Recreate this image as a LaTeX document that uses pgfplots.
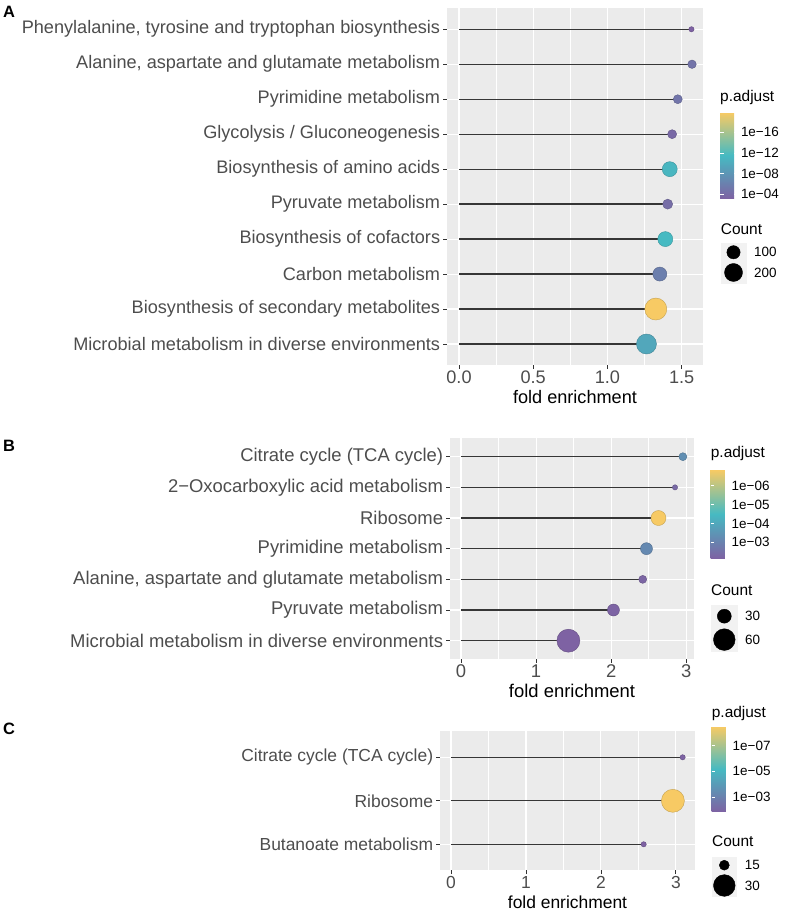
\documentclass[border=0pt]{standalone}
\usepackage{pgfplots}
\usepackage{pgfplotstable}
\pgfplotsset{compat=1.18}
\usepackage{fontspec}
\setmainfont{Liberation Sans}
\definecolor{panelbg}{HTML}{EBEBEB}
\definecolor{keybg}{HTML}{F2F2F2}
\definecolor{lbl}{HTML}{4D4D4D}
\definecolor{stem}{HTML}{363636}
\newcommand{\fontA}{\fontsize{18.2}{20}\selectfont}
\newcommand{\fontB}{\fontsize{18.5}{20.5}\selectfont}
\newcommand{\fontC}{\fontsize{17.5}{19}\selectfont}
\newcommand{\legfont}{\fontsize{13.5}{15}\selectfont}
\newcommand{\ttlfont}{\fontsize{15.5}{17}\selectfont}
\newcommand{\panfont}{\bfseries\fontsize{16.5}{18}\selectfont}

% y = row (top row highest), x = fold enrichment, m = -log10(p.adjust), d = point diameter
\pgfplotstableread{
y x m d
9 1.566 3.2 5.3
8 1.570 4.9 8.5
7 1.474 5.0 9
6 1.436 3.9 9
5 1.420 11.1 15
4 1.406 4.3 10
3 1.390 11.5 15
2 1.353 5.9 14
1 1.326 19.8 22
0 1.263 9.7 20
}\dataA
\pgfplotstableread{
y x m d
6 2.955 3.35 8
5 2.850 2.35 5.3
4 2.630 6.83 15
3 2.470 3.2 12
2 2.420 2.25 8
1 2.030 2.2 12
0 1.430 2.15 23
}\dataB
\pgfplotstableread{
y x m d
2 3.090 1.9 5.3
1 2.960 8.48 23
0 2.570 1.85 5.3
}\dataC

\pgfplotsset{
  lolli/.style={
    scale only axis,
    anchor=north west,
    axis background/.style={fill=panelbg},
    axis line style={draw=none},
    grid=both,
    major grid style={white, line width=1.1bp},
    minor grid style={white, line width=0.55bp},
    minor x tick num=1,
    minor y tick num=0,
    tick align=outside,
    xtick pos=bottom, ytick pos=left,
    major tick length=3.7bp, minor tick length=0pt,
    tick style={color=black!80, line width=0.8bp},
    ymin=-0.6,
    tick label style={font=#1, text=lbl, inner sep=0pt},
    yticklabel style={xshift=-3bp},
    xticklabel style={yshift=-2bp},
    xlabel={fold enrichment},
    xlabel style={font=#1, inner sep=0pt, at={(axis description cs:0.5,0)}, anchor=north, yshift=-25bp},
    colormap={padj}{rgb255=(126,98,163) rgb255=(70,186,194) rgb255=(247,202,100)},
    colorbar,
  },
  cbar/.style={
    scale only axis,
    width=17.3bp,
    at={(parent axis.north east)}, anchor=north west,
    axis line style={draw=none},
    tick align=inside,
    ytick pos=both,
    yticklabel pos=right,
    major tick length=3.5bp,
    tick style={white, line width=0.8bp},
    yticklabel style={font=\legfont, text=black, inner sep=0pt, xshift=3.5bp},
  },
  sizeleg/.style={
    scale only axis,
    anchor=north west,
    clip=false,
    axis background/.style={fill=keybg},
    axis line style={draw=none},
    xmin=0, ymin=0, y dir=reverse,
    xtick=\empty,
    ytick pos=right, yticklabel pos=right,
    major tick length=0pt,
    yticklabel style={font=\legfont, text=black, inner sep=0pt, xshift=7.3bp},
  },
  stemplot/.style={xcomb, draw=stem, line width=1.25bp, mark=none},
  dotplot/.style={scatter, only marks, mark=*, point meta=explicit,
    visualization depends on={\thisrow{d}/2 \as \rad},
    scatter/@pre marker code/.append style={/tikz/mark size=\rad bp}},
}

\begin{document}
\begin{tikzpicture}
\useasboundingbox (0,0) rectangle (788bp,913bp);

% ---------------- Panel A ----------------
\node[anchor=base west, inner sep=0pt, font=\panfont] at (3bp,895.7bp) {A};
\begin{axis}[lolli=\fontA,
  at={(447bp,904.7bp)}, width=256bp, height=356.7bp,
  xmin=-0.081, xmax=1.644, ymax=9.6,
  xtick={0,0.5,1,1.5}, xticklabels={0.0,0.5,1.0,1.5},
  ytick={0,...,9},
  yticklabels={Microbial metabolism in diverse environments,
    Biosynthesis of secondary metabolites,
    Carbon metabolism,
    Biosynthesis of cofactors,
    Pyruvate metabolism,
    Biosynthesis of amino acids,
    Glycolysis / Gluconeogenesis,
    Pyrimidine metabolism,
    {Alanine, aspartate and glutamate metabolism},
    {Phenylalanine, tyrosine and tryptophan biosynthesis}},
  point meta min=3.2, point meta max=19.8,
  colorbar style={cbar, height=85.6bp, xshift=8.5bp, yshift=-104.4bp,
    ytick={4,8,12,16}, yticklabels={1e−04,1e−08,1e−12,1e−16}},
]
\addplot[stemplot] table[x=x, y=y] {\dataA};
\addplot[dotplot] table[x=x, y=y, meta=m] {\dataA};
\end{axis}
\node[anchor=west, inner sep=0pt, font=\ttlfont] at (720bp,815bp) {p.adjust};
\node[anchor=west, inner sep=0pt, font=\ttlfont] at (720.7bp,684bp) {Count};
\begin{axis}[sizeleg, at={(720.7bp,669.7bp)}, width=26bp, height=40.7bp,
  xmax=26, ymax=40.7, ytick={9,29.2}, yticklabels={100,200}]
\addplot[only marks, mark=*, black, mark size=6.65bp] coordinates {(12.8,9)};
\addplot[only marks, mark=*, black, mark size=9bp] coordinates {(12.8,29.2)};
\end{axis}

% ---------------- Panel B ----------------
\node[anchor=base west, inner sep=0pt, font=\panfont] at (3bp,461bp) {B};
\begin{axis}[lolli=\fontB,
  at={(450bp,474.7bp)}, width=244bp, height=220.8bp,
  xmin=-0.147, xmax=3.103, ymax=6.6,
  xtick={0,1,2,3},
  xticklabels={0,1,2,3},
  ytick={0,...,6},
  yticklabels={Microbial metabolism in diverse environments,
    Pyruvate metabolism,
    {Alanine, aspartate and glutamate metabolism},
    Pyrimidine metabolism,
    Ribosome,
    2−Oxocarboxylic acid metabolism,
    Citrate cycle (TCA cycle)},
  point meta min=2.15, point meta max=6.83,
  colorbar style={cbar, height=88.3bp, xshift=8.2bp, yshift=-31.7bp,
    ytick={3,4,5,6}, yticklabels={1e−03,1e−04,1e−05,1e−06}},
]
\addplot[stemplot] table[x=x, y=y] {\dataB};
\addplot[dotplot] table[x=x, y=y, meta=m] {\dataB};
\end{axis}
\node[anchor=west, inner sep=0pt, font=\ttlfont] at (710.7bp,459bp) {p.adjust};
\node[anchor=west, inner sep=0pt, font=\ttlfont] at (711bp,323bp) {Count};
\begin{axis}[sizeleg, at={(710.7bp,308bp)}, width=27bp, height=46.7bp,
  xmax=27, ymax=46.7, ytick={11.2,34.6}, yticklabels={30,60}]
\addplot[only marks, mark=*, black, mark size=7bp] coordinates {(13.6,11.2)};
\addplot[only marks, mark=*, black, mark size=10.85bp] coordinates {(13.6,34.6)};
\end{axis}

% ---------------- Panel C ----------------
\node[anchor=base west, inner sep=0pt, font=\panfont] at (3bp,178bp) {C};
\begin{axis}[lolli=\fontC,
  at={(440bp,181.8bp)}, width=255bp, height=139.2bp,
  xmin=-0.147, xmax=3.255, ymax=2.6,
  xtick={0,1,2,3},
  xticklabels={0,1,2,3},
  ytick={0,1,2},
  yticklabels={Butanoate metabolism, Ribosome, Citrate cycle (TCA cycle)},
  point meta min=1.85, point meta max=8.48,
  colorbar style={cbar, height=85bp, xshift=8.2bp, yshift=4.5bp,
    ytick={3,5,7}, yticklabels={1e−03,1e−05,1e−07}},
]
\addplot[stemplot] table[x=x, y=y] {\dataC};
\addplot[dotplot] table[x=x, y=y, meta=m] {\dataC};
\end{axis}
\node[anchor=west, inner sep=0pt, font=\ttlfont] at (711.7bp,199bp) {p.adjust};
\node[anchor=west, inner sep=0pt, font=\ttlfont] at (712bp,71.5bp) {Count};
\begin{axis}[sizeleg, at={(711.7bp,56.3bp)}, width=25.6bp, height=40bp,
  xmax=25.6, ymax=40, ytick={8.5,28.8}, yticklabels={15,30}]
\addplot[only marks, mark=*, black, mark size=5bp] coordinates {(12.6,8.5)};
\addplot[only marks, mark=*, black, mark size=10.85bp] coordinates {(12.6,28.8)};
\end{axis}
\end{tikzpicture}
\end{document}
